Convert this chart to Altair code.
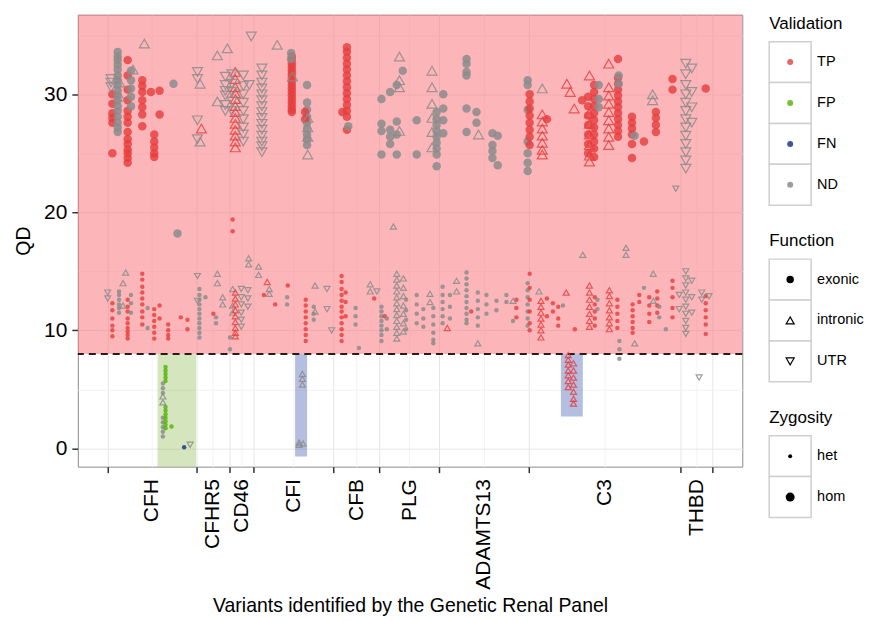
import altair as alt
import pandas as pd

FONT = "Liberation Sans"

# ---------------- axis / layout values ----------------
gene_names = ["CFH", "CFHR5", "CD46", "CFI", "CFB", "PLG", "ADAMTS13", "C3", "THBD"]
gene_bounds = [45, 178, 228, 265, 384, 454, 543, 678, 907, 955]
x_domain = [0, 1000]
y_domain = [-1.55, 36.75]
qd_threshold = 8
y_major = [0, 10, 20, 30]
y_minor = [5, 15, 25, 35]

validation_levels = ["TP", "FP", "FN", "ND"]
validation_colors = ["#E63C3C", "#54B308", "#163790", "#8C8C8C"]
validation_opacity = [0.8, 0.85, 0.9, 0.5]
function_levels = ["exonic", "intronic", "UTR"]
function_shapes = ["circle", "triangle-up", "triangle-down"]
zygosity_levels = ["het", "hom"]

# shaded regions (threshold band, FP region, FN regions)
region_x0 = [0, 120, 327, 727]
region_x1 = [1000, 178, 345, 760]
region_y0 = [8, -1.55, -0.7, 2.7]
region_y1 = [36.75, 8, 8, 8]
region_fill = ["#FA7A80", "#87B845", "#435CB4", "#435CB4"]
region_opacity = [0.55, 0.35, 0.4, 0.4]

# ---------------- variants: (x, validation, function, zygosity, QD values) ----------------
cfh_variants = [
    (50, "ND", "UTR", "hom", [31.3, 31.0, 30.6]),
    (52, "TP", "exonic", "hom", [30.0, 29.2, 28.4, 28.0, 27.6, 25.0]),
    (60, "ND", "exonic", "hom", [33.6, 33.2, 32.9, 32.5, 32.1, 31.6, 31.2, 30.8, 30.3, 29.9, 29.5, 29.0, 28.6, 28.1, 27.6, 27.2, 26.8]),
    (63, "ND", "intronic", "hom", [31.0, 29.8]),
    (75, "TP", "exonic", "hom", [32.9, 31.6, 30.4, 29.5, 28.6, 28.1, 27.6, 26.8, 26.2, 25.8, 25.3, 25.0, 24.6, 24.2]),
    (80, "ND", "exonic", "hom", [32.0, 31.2, 30.5, 29.8, 29.0]),
    (83, "ND", "intronic", "hom", [32.1]),
    (97, "TP", "exonic", "hom", [31.2, 30.7, 30.2, 29.5, 28.9, 28.3, 27.3]),
    (100, "ND", "intronic", "hom", [34.3]),
    (110, "TP", "exonic", "hom", [30.2]),
    (115, "TP", "exonic", "hom", [26.6, 26.0, 25.5, 25.0, 24.7]),
    (123, "TP", "exonic", "hom", [30.3, 28.3]),
    (144, "ND", "exonic", "hom", [30.9]),
    (150, "ND", "exonic", "hom", [18.2]),
    (45, "ND", "UTR", "het", [12.7, 13.2]),
    (52, "TP", "exonic", "het", [12.3, 11.7, 11.0, 10.4, 10.0, 9.5]),
    (62, "ND", "exonic", "het", [13.3, 13.0, 12.6, 12.2, 11.9, 11.5]),
    (68, "ND", "intronic", "het", [14.0, 12.1]),
    (72, "ND", "intronic", "het", [14.9]),
    (75, "TP", "exonic", "het", [12.6, 12.0, 11.6, 11.0, 10.6, 10.2, 9.9, 9.6, 9.3]),
    (80, "ND", "exonic", "het", [13.0, 12.3, 11.5]),
    (97, "TP", "exonic", "het", [14.8, 14.3, 13.7, 13.2, 12.7, 12.2, 11.6, 11.1, 10.5]),
    (105, "ND", "exonic", "het", [11.9, 10.2]),
    (115, "TP", "exonic", "het", [11.8, 11.3, 10.8, 10.3, 9.8, 9.3]),
    (123, "TP", "exonic", "het", [12.1, 11.0]),
    (136, "TP", "exonic", "het", [10.5, 10.0, 9.6, 9.3]),
    (155, "TP", "exonic", "het", [11.1]),
    (165, "TP", "exonic", "het", [10.9, 10.1]),
    (128, "ND", "exonic", "het", [5.5, 5.1, 4.7, 2.6, 2.2, 1.8, 1.4, 1.0]),
    (128, "ND", "intronic", "het", [4.4, 3.9]),
    (132, "FP", "exonic", "het", [6.9, 6.6, 6.3, 6.0, 5.7, 3.5, 3.2, 2.9, 2.6, 2.3, 2.0, 1.7]),
    (141, "FP", "exonic", "het", [1.85]),
    (160, "FN", "exonic", "het", [0.1]),
    (169, "ND", "UTR", "het", [0.3]),
]

cfhr5_variants = [
    (180, "ND", "UTR", "hom", [31.9, 31.3, 27.8, 26.2]),
    (184, "ND", "intronic", "hom", [30.9, 26.0]),
    (186, "TP", "intronic", "hom", [27.1]),
    (210, "ND", "intronic", "hom", [33.3, 29.4]),
    (225, "ND", "intronic", "hom", [33.9]),
    (222, "ND", "UTR", "hom", [31.5, 30.8, 30.3, 29.9, 29.1, 28.6]),
    (180, "ND", "UTR", "het", [14.6, 12.5]),
    (183, "ND", "exonic", "het", [13.5, 13.0, 12.6, 12.2, 11.8, 11.4, 11.0, 10.6, 10.2, 9.8, 9.4]),
    (192, "ND", "exonic", "het", [12.8]),
    (204, "TP", "exonic", "het", [11.4]),
    (210, "ND", "intronic", "het", [14.8, 14.0]),
    (208, "ND", "exonic", "het", [11.1, 10.6]),
    (218, "ND", "intronic", "het", [12.8, 12.2]),
]

cd46_variants = [
    (237, "TP", "intronic", "hom", [31.9, 31.3, 30.6, 30.1, 29.6, 29.0, 28.5, 28.0, 27.5, 27.0, 26.5, 26.0, 25.5]),
    (232, "ND", "UTR", "hom", [31.7, 30.9, 30.2, 29.4, 28.6]),
    (249, "ND", "UTR", "hom", [31.6, 30.7, 30.0, 29.3, 28.6, 27.9, 27.2, 26.6, 26.0]),
    (258, "ND", "UTR", "hom", [30.8]),
    (261, "ND", "UTR", "hom", [34.9]),
    (229, "ND", "exonic", "het", [9.4, 8.4]),
    (233, "ND", "intronic", "het", [13.5, 12.1, 11.5]),
    (233, "TP", "exonic", "het", [19.4, 18.4]),
    (237, "TP", "intronic", "het", [13.2, 12.7, 12.2, 11.7, 11.2, 10.7, 10.2, 9.8, 9.5]),
    (246, "ND", "UTR", "het", [13.5, 12.8, 12.2, 11.5, 10.9, 10.3]),
    (256, "ND", "UTR", "het", [13.4, 12.7, 12.0]),
    (257, "ND", "intronic", "het", [16.1, 15.6]),
]

cfi_variants = [
    (277, "ND", "UTR", "hom", [32.2, 31.6, 31.0, 30.5, 30.0, 29.5, 29.0, 28.5, 28.0, 27.5, 27.0, 26.5, 26.0, 25.6, 25.1]),
    (300, "ND", "intronic", "hom", [34.2]),
    (322, "TP", "exonic", "hom", [33.2, 32.9, 32.6, 32.3, 32.0, 31.7, 31.4, 31.1, 30.8, 30.5, 30.2, 29.9, 29.6, 29.3, 29.0, 28.7, 28.5]),
    (321, "ND", "exonic", "hom", [33.5, 33.0]),
    (323, "ND", "intronic", "hom", [31.5]),
    (345, "ND", "exonic", "hom", [30.8, 29.3, 28.7, 28.1, 27.6, 27.1, 26.6, 26.2, 25.7]),
    (346, "ND", "intronic", "hom", [28.0, 27.2, 26.4, 24.9]),
    (342, "TP", "exonic", "hom", [28.5, 27.9]),
    (285, "TP", "intronic", "het", [14.1]),
    (272, "ND", "intronic", "het", [15.4, 14.7]),
    (280, "TP", "exonic", "het", [13.0]),
    (288, "ND", "intronic", "het", [13.5, 13.1]),
    (297, "TP", "exonic", "het", [12.2]),
    (315, "ND", "exonic", "het", [12.8, 12.2]),
    (316, "TP", "exonic", "het", [13.8]),
    (343, "TP", "exonic", "het", [12.6, 12.1, 11.6, 11.1, 10.6, 10.1, 9.6, 9.1]),
    (355, "ND", "exonic", "het", [12.0, 11.4, 10.9]),
    (357, "ND", "intronic", "het", [13.8, 11.6]),
    (375, "ND", "UTR", "het", [13.5, 11.8]),
    (382, "ND", "UTR", "het", [10.0]),
    (338, "ND", "intronic", "het", [6.3, 5.9, 5.4]),
    (333, "ND", "intronic", "het", [0.5, 0.3]),
    (339, "ND", "intronic", "het", [0.4]),
]

cfb_variants = [
    (405, "TP", "exonic", "hom", [34.0, 33.6, 33.1, 32.6, 32.1, 31.6, 31.1, 30.6, 30.1, 29.6, 29.1, 28.6, 28.1, 27.0]),
    (407, "ND", "exonic", "hom", [27.3]),
    (398, "TP", "exonic", "hom", [28.5]),
    (397, "TP", "exonic", "het", [14.6, 14.1, 13.5, 13.0, 12.5, 12.0, 11.6, 11.1, 10.6, 10.1, 9.6, 9.1]),
    (403, "TP", "exonic", "het", [13.2, 12.4, 11.2]),
    (418, "ND", "exonic", "het", [11.9, 11.2, 10.5]),
    (423, "ND", "exonic", "het", [8.5]),
    (440, "ND", "intronic", "het", [13.9, 13.3]),
    (446, "TP", "exonic", "het", [12.7]),
    (450, "ND", "UTR", "het", [13.3]),
]

plg_variants = [
    (457, "ND", "exonic", "hom", [29.6, 27.5, 26.9, 24.9]),
    (470, "ND", "exonic", "hom", [30.2, 27.0, 26.4, 25.8]),
    (480, "ND", "exonic", "hom", [30.8, 27.7, 26.6, 24.9]),
    (489, "ND", "exonic", "hom", [32.0]),
    (484, "ND", "intronic", "hom", [33.2, 31.2, 30.6, 26.9]),
    (510, "ND", "exonic", "hom", [27.8, 24.9]),
    (533, "ND", "intronic", "hom", [32.0, 30.6, 29.2, 28.0, 26.8, 25.5]),
    (540, "ND", "exonic", "hom", [28.5, 27.9, 27.4, 26.9, 26.4, 25.9, 25.4, 24.9, 23.9]),
    (475, "ND", "intronic", "het", [18.8]),
    (457, "ND", "exonic", "het", [12.0, 11.6, 11.2, 10.8, 10.4, 10.0, 9.6, 9.1]),
    (462, "TP", "exonic", "het", [11.2]),
    (465, "ND", "exonic", "het", [11.0, 10.1]),
    (480, "ND", "intronic", "het", [14.8, 14.3, 13.8, 13.3, 12.8, 12.3, 11.8, 11.3, 10.8, 10.3, 9.8, 9.3]),
    (490, "ND", "intronic", "het", [14.4, 13.6, 12.9, 12.1, 11.4, 10.6, 9.9]),
    (494, "ND", "exonic", "het", [12.6, 11.7, 10.9, 10.1]),
    (510, "ND", "exonic", "het", [13.0, 12.2, 11.4, 10.6]),
    (520, "ND", "exonic", "het", [11.8, 11.0, 10.3]),
    (530, "ND", "intronic", "het", [13.1, 12.4]),
    (535, "ND", "exonic", "het", [11.9, 11.2, 10.5, 9.8, 9.2, 8.9]),
]

adamts13_variants = [
    (550, "ND", "exonic", "hom", [30.0, 28.8, 27.8, 26.7]),
    (585, "ND", "exonic", "hom", [33.0, 32.6, 31.9, 31.6, 28.8, 26.8]),
    (600, "ND", "exonic", "hom", [28.5, 27.6]),
    (603, "ND", "intronic", "hom", [26.6]),
    (624, "ND", "exonic", "hom", [26.7, 25.7, 25.2, 24.6]),
    (632, "ND", "exonic", "hom", [26.5, 24.0]),
    (549, "ND", "exonic", "het", [13.7, 13.0, 12.4, 11.8, 11.2, 10.6]),
    (556, "TP", "intronic", "het", [10.2]),
    (560, "ND", "exonic", "het", [13.0, 12.0, 11.0]),
    (570, "ND", "intronic", "het", [14.2, 13.3]),
    (585, "ND", "exonic", "het", [14.9, 14.4, 13.9, 13.4, 12.9, 12.4, 11.9, 11.4, 10.9, 10.6]),
    (592, "TP", "exonic", "het", [11.6]),
    (602, "ND", "exonic", "het", [13.2, 12.5, 11.8, 11.1, 10.4]),
    (602, "ND", "intronic", "het", [8.9]),
    (615, "ND", "exonic", "het", [13.0, 12.2, 11.4]),
    (630, "ND", "exonic", "het", [12.5, 11.7]),
    (645, "ND", "exonic", "het", [13.0, 12.4]),
    (655, "ND", "intronic", "het", [12.5]),
    (660, "TP", "exonic", "het", [12.6, 11.9, 11.1]),
    (655, "ND", "exonic", "het", [10.8]),
]

c3_variants = [
    (677, "ND", "exonic", "hom", [31.2, 30.8, 28.7, 26.0, 25.0, 24.2, 23.5]),
    (680, "TP", "exonic", "hom", [30.0, 29.4, 28.8, 28.2, 27.6, 27.0, 26.4, 25.7]),
    (699, "TP", "intronic", "hom", [28.3, 27.7, 27.1, 26.5, 25.9, 25.3, 24.9]),
    (699, "ND", "intronic", "hom", [30.5]),
    (706, "TP", "exonic", "hom", [27.9]),
    (736, "TP", "intronic", "hom", [30.9]),
    (741, "TP", "intronic", "hom", [30.2]),
    (747, "TP", "intronic", "hom", [28.8]),
    (759, "TP", "exonic", "hom", [29.5]),
    (770, "TP", "intronic", "hom", [31.6, 28.4, 27.5, 26.6, 25.7, 24.8, 24.3]),
    (768, "TP", "exonic", "hom", [29.8, 29.0, 28.2, 27.4, 26.6, 25.8, 25.0]),
    (777, "TP", "exonic", "hom", [30.8, 30.2, 29.6, 29.0, 28.4, 27.8, 27.2, 26.6, 26.0, 25.4, 24.7]),
    (784, "ND", "exonic", "hom", [30.8, 29.6, 28.9]),
    (799, "TP", "intronic", "hom", [32.6, 30.6, 29.9, 29.2, 28.5, 27.8, 27.1, 26.4, 25.7]),
    (813, "TP", "exonic", "hom", [33.0, 31.4, 30.9, 30.4, 29.9, 29.4, 28.9, 28.4, 27.9, 27.4, 26.9, 26.4]),
    (814, "ND", "exonic", "hom", [31.6, 30.9]),
    (834, "TP", "exonic", "hom", [28.1, 27.6, 27.1, 26.6, 25.8, 24.6]),
    (838, "ND", "exonic", "hom", [26.5]),
    (852, "TP", "exonic", "hom", [26.0]),
    (865, "ND", "intronic", "hom", [30.0, 29.5]),
    (870, "TP", "exonic", "hom", [28.5, 28.0, 27.4, 26.8]),
    (895, "TP", "exonic", "hom", [31.3, 30.4]),
    (677, "ND", "exonic", "het", [14.0, 13.4, 12.8, 12.2, 11.6, 11.0, 10.4]),
    (680, "TP", "exonic", "het", [14.8, 13.6, 12.6, 11.6, 10.6, 10.0]),
    (697, "TP", "intronic", "het", [12.5, 12.0, 11.5, 11.0, 10.5, 10.0, 9.4]),
    (694, "ND", "intronic", "het", [13.3]),
    (706, "TP", "exonic", "het", [12.7, 11.2]),
    (715, "TP", "exonic", "het", [12.3, 11.6]),
    (723, "TP", "exonic", "het", [12.0, 11.0, 10.4]),
    (730, "ND", "exonic", "het", [12.1]),
    (735, "TP", "intronic", "het", [13.2]),
    (748, "TP", "exonic", "het", [10.1]),
    (760, "ND", "intronic", "het", [16.4]),
    (770, "TP", "intronic", "het", [13.8, 13.2, 12.6, 12.0, 11.4, 10.8, 10.3]),
    (778, "TP", "exonic", "het", [12.8, 12.2, 11.6, 11.0, 10.4]),
    (782, "ND", "exonic", "het", [12.6, 11.8]),
    (800, "TP", "intronic", "het", [13.4, 12.9, 12.3, 11.7, 11.1, 10.6, 10.1]),
    (812, "TP", "exonic", "het", [12.6, 12.0, 11.4, 10.8, 10.2]),
    (815, "ND", "exonic", "het", [9.1, 8.4, 7.6]),
    (825, "ND", "intronic", "het", [17.0, 16.4]),
    (835, "TP", "exonic", "het", [12.2, 11.7, 11.2, 10.7, 10.2, 9.8]),
    (838, "ND", "intronic", "het", [8.9]),
    (845, "TP", "exonic", "het", [13.0, 12.4]),
    (852, "ND", "exonic", "het", [13.6]),
    (860, "TP", "exonic", "het", [12.8, 12.1, 11.4, 10.7]),
    (866, "ND", "intronic", "het", [14.8, 12.5]),
    (872, "TP", "exonic", "het", [13.3, 12.7, 12.1, 11.5]),
    (875, "ND", "exonic", "het", [12.0, 11.1]),
    (885, "ND", "exonic", "het", [10.1]),
    (895, "TP", "exonic", "het", [14.2, 13.6, 12.8, 11.9, 11.1]),
    (738, "TP", "intronic", "het", [7.9, 7.5, 7.1, 6.6, 6.2, 5.7, 5.2]),
    (746, "TP", "intronic", "het", [7.2, 6.6, 6.0, 5.4, 4.8, 4.2, 3.8]),
]

thbd_variants = [
    (915, "ND", "UTR", "hom", [32.6, 31.7, 30.8, 30.0, 29.3, 28.6, 27.9, 27.2, 26.5, 25.8, 25.1, 24.4, 23.7]),
    (924, "ND", "UTR", "hom", [32.2, 30.2, 28.9, 27.6]),
    (945, "TP", "exonic", "hom", [30.5]),
    (900, "ND", "UTR", "het", [22.0]),
    (905, "ND", "UTR", "het", [13.0, 11.8]),
    (915, "ND", "UTR", "het", [15.0, 14.4, 13.8, 13.2, 12.6, 12.0, 11.4, 10.8, 10.2, 9.7]),
    (924, "ND", "UTR", "het", [14.2, 12.8, 11.5]),
    (935, "ND", "UTR", "het", [6.0]),
    (939, "ND", "UTR", "het", [13.2, 12.6]),
    (945, "TP", "exonic", "het", [12.9, 12.3, 11.7, 11.1, 10.5, 9.7]),
    (950, "ND", "UTR", "het", [12.9]),
]

# ---------------- tables ----------------
rows = []
for group in [cfh_variants, cfhr5_variants, cd46_variants, cfi_variants, cfb_variants,
              plg_variants, adamts13_variants, c3_variants, thbd_variants]:
    for x, v, f, z, qds in group:
        for q in qds:
            rows.append({"x": x, "qd": q, "validation": v, "function": f, "zygosity": z})
points = pd.DataFrame(rows)
regions = pd.DataFrame({"x0": region_x0, "x1": region_x1, "y0": region_y0, "y1": region_y1,
                        "fill": region_fill, "op": region_opacity})
thr = pd.DataFrame({"qd": [qd_threshold]})

# ---------------- axes ----------------
mids = [(a + b) / 2 for a, b in zip(gene_bounds[:-1], gene_bounds[1:])]
label_expr = " : ".join(f"datum.value == {m} ? '{g}'" for m, g in zip(mids, gene_names)) + " : ''"
bounds_arr = "[" + ",".join(str(b) for b in gene_bounds) + "]"
is_bound = f"indexof({bounds_arr}, datum.value) >= 0"

x_scale = alt.Scale(domain=x_domain, nice=False, zero=False)
y_scale = alt.Scale(domain=y_domain, nice=False, zero=False)

x_axis = alt.Axis(
    values=gene_bounds + mids, labelExpr=label_expr, labelAngle=270, labelOverlap=False,
    labelFlush=False, labelFont=FONT, labelFontSize=21, labelColor="black", labelPadding=6,
    tickSize=6, tickWidth=1.5, tickColor="#333333",
    tickOpacity={"condition": {"test": is_bound, "value": 1}, "value": 0},
    grid=True, gridColor={"condition": {"test": is_bound, "value": "#E6E6E6"}, "value": "#F3F3F3"},
    domain=False, title="Variants identified by the Genetic Renal Panel", titleFont=FONT,
    titleFontSize=19.5, titleFontWeight="normal", titleColor="black", titlePadding=7)

y_axis = alt.Axis(
    values=y_major + y_minor, labelExpr="datum.value % 10 == 0 ? datum.label : ''",
    labelFont=FONT, labelFontSize=21, labelColor="black", labelPadding=5,
    tickSize=6, tickWidth=1.5, tickColor="#333333",
    tickOpacity={"condition": {"test": "datum.value % 10 == 0", "value": 1}, "value": 0},
    grid=True, gridColor={"condition": {"test": "datum.value % 10 == 0", "value": "#E6E6E6"}, "value": "#F3F3F3"},
    domain=False, title="QD", titleFont=FONT, titleFontSize=19.5, titleFontWeight="normal",
    titleColor="black", titlePadding=10)

color_enc = alt.Color("validation:N", scale=alt.Scale(domain=validation_levels, range=validation_colors), legend=None)
opac_enc = alt.Opacity("validation:N", scale=alt.Scale(domain=validation_levels, range=validation_opacity), legend=None)
shape_enc = alt.Shape("function:N", scale=alt.Scale(domain=function_levels, range=function_shapes), legend=None)

band_layer = alt.Chart(regions).mark_rect().encode(
    x=alt.X("x0:Q", scale=x_scale, axis=x_axis), x2="x1:Q",
    y=alt.Y("y0:Q", scale=y_scale, axis=y_axis), y2="y1:Q",
    fill=alt.Fill("fill:N", scale=None), opacity=alt.Opacity("op:Q", scale=None))

rule_layer = alt.Chart(thr).mark_rule(color="#2B1A1A", strokeWidth=2, strokeDash=[7, 5]).encode(
    y=alt.Y("qd:Q", scale=y_scale, axis=y_axis))

circle_layer = alt.Chart(points).transform_filter(alt.datum.function == "exonic").mark_point(
    filled=True, strokeWidth=0).encode(
    x=alt.X("x:Q", scale=x_scale, axis=x_axis), y=alt.Y("qd:Q", scale=y_scale, axis=y_axis),
    color=color_enc, opacity=opac_enc, shape=shape_enc,
    size=alt.Size("zygosity:O", scale=alt.Scale(domain=zygosity_levels, range=[20, 72]), legend=None))

tri_layer = alt.Chart(points).transform_filter(alt.datum.function != "exonic").mark_point(
    filled=False, strokeWidth=1.2).encode(
    x=alt.X("x:Q", scale=x_scale, axis=x_axis), y=alt.Y("qd:Q", scale=y_scale, axis=y_axis),
    color=color_enc, opacity=opac_enc, shape=shape_enc,
    size=alt.Size("zygosity:O", scale=alt.Scale(domain=zygosity_levels, range=[36, 100]), legend=None))

main = alt.layer(band_layer, rule_layer, circle_layer, tri_layer).resolve_scale(
    size="independent").properties(width=666, height=453,
                                   view=alt.ViewBackground(stroke="#8C8C8C", strokeWidth=1))

# ---------------- custom legend ----------------
KEY_W, KEY_H = 42, 41
LEG_W = 94
NO_STROKE = alt.ViewBackground(strokeWidth=0, strokeOpacity=0)


def legend_title(title):
    return alt.Chart(pd.DataFrame({"t": [title]})).mark_text(
        align="left", baseline="middle", font=FONT, fontSize=17, color="black").encode(
        text="t:N", x=alt.value(0), y=alt.value(9)).properties(width=LEG_W, height=18, view=NO_STROKE)


def legend_keys(items, point_layers):
    df = pd.DataFrame({"item": items})
    yenc = alt.Y("item:N", sort=items, axis=None, scale=alt.Scale(paddingInner=0, paddingOuter=0))
    base = alt.Chart(df)
    boxes = base.mark_rect(fill="white", stroke="#CFCFCF", strokeWidth=1.5).encode(
        y=yenc, x=alt.value(0), x2=alt.value(KEY_W))
    texts = base.mark_text(align="left", baseline="middle", font=FONT, fontSize=14.5, color="black").encode(
        y=yenc, x=alt.value(KEY_W + 6), text="item:N")
    layers = [boxes] + [pl(base, yenc) for pl in point_layers] + [texts]
    return alt.layer(*layers).resolve_scale(size="independent").properties(
        width=LEG_W, height=KEY_H * len(items), view=NO_STROKE)


def val_points(base, yenc):
    return base.mark_point(filled=True, strokeWidth=0, size=36, shape="circle").encode(
        y=yenc, x=alt.value(KEY_W / 2),
        color=alt.Color("item:N", scale=alt.Scale(domain=validation_levels, range=validation_colors), legend=None),
        opacity=alt.Opacity("item:N", scale=alt.Scale(domain=validation_levels, range=validation_opacity), legend=None))


def fun_circle(base, yenc):
    return base.transform_filter(alt.datum.item == "exonic").mark_point(
        filled=True, strokeWidth=0, size=56, color="black", opacity=1).encode(
        y=yenc, x=alt.value(KEY_W / 2),
        shape=alt.Shape("item:N", scale=alt.Scale(domain=function_levels, range=function_shapes), legend=None))


def fun_tri(base, yenc):
    return base.transform_filter(alt.datum.item != "exonic").mark_point(
        filled=False, strokeWidth=1.2, size=64, color="black", opacity=1).encode(
        y=yenc, x=alt.value(KEY_W / 2),
        shape=alt.Shape("item:N", scale=alt.Scale(domain=function_levels, range=function_shapes), legend=None))


def zyg_points(base, yenc):
    return base.mark_point(filled=True, strokeWidth=0, color="black", opacity=1, shape="circle").encode(
        y=yenc, x=alt.value(KEY_W / 2),
        size=alt.Size("item:N", scale=alt.Scale(domain=zygosity_levels, range=[16, 81]), legend=None))


def legend_section(title, items, point_layers):
    return alt.vconcat(legend_title(title), legend_keys(items, point_layers), spacing=8)


legend_col = alt.vconcat(
    legend_section("Validation", validation_levels, [val_points]),
    legend_section("Function", function_levels, [fun_circle, fun_tri]),
    legend_section("Zygosity", zygosity_levels, [zyg_points]),
    spacing=26)

chart = alt.hconcat(main, legend_col, spacing=24).configure_view(strokeWidth=0).configure(
    font=FONT).properties(padding={"left": 5, "top": 5, "right": 0, "bottom": 0})

chart.save("out.html", embed_options={"renderer": "svg", "actions": False})
